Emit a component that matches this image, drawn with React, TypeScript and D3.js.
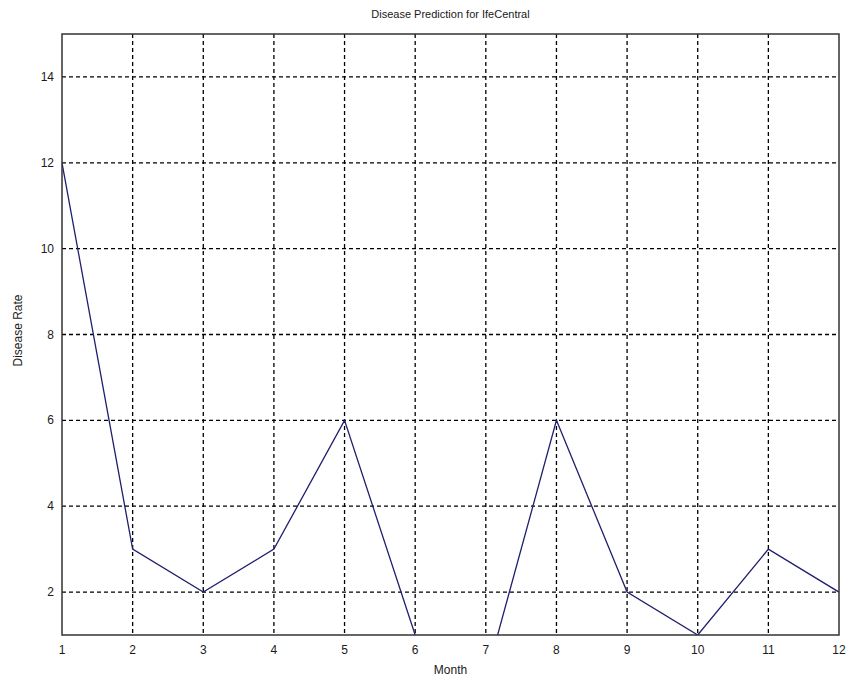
import React from "react";
import * as d3 from "d3";

const months = [1, 2, 3, 4, 5, 6, 7, 8, 9, 10, 11, 12];
const diseaseRate = [12, 3, 2, 3, 6, 1, 0, 6, 2, 1, 3, 2];
const yTicks = [2, 4, 6, 8, 10, 12, 14];

const width = 850;
const height = 682;
const margin = { top: 34, right: 11, bottom: 47, left: 62 };

export default function App() {
  const innerW = width - margin.left - margin.right;
  const innerH = height - margin.top - margin.bottom;

  const x = d3.scaleLinear().domain([1, 12]).range([0, innerW]);
  const y = d3.scaleLinear().domain([1, 15]).range([innerH, 0]);

  const line = d3
    .line<number>()
    .x((_, i) => x(months[i]))
    .y((d) => y(d));

  const font = "Arial, 'Liberation Sans', sans-serif";
  const ink = "#1a1a1a";

  return (
    <svg
      width={width}
      height={height}
      style={{ position: "absolute", left: 0, top: 0, background: "#fff" }}
    >
      <defs>
        <clipPath id="plot">
          <rect x={0} y={0} width={innerW} height={innerH} />
        </clipPath>
      </defs>
      <text
        x={margin.left + innerW / 2}
        y={18}
        textAnchor="middle"
        fontSize={11}
        fontFamily={font}
        fill={ink}
      >
        Disease  Prediction for IfeCentral
      </text>
      <g transform={`translate(${margin.left},${margin.top})`}>
        {months.slice(1, -1).map((m) => (
          <line
            key={"gx" + m}
            x1={x(m)}
            x2={x(m)}
            y1={0}
            y2={innerH}
            stroke="#000"
            strokeWidth={1.3}
            strokeDasharray="4,3"
          />
        ))}
        {yTicks.map((t) => (
          <line
            key={"gy" + t}
            x1={0}
            x2={innerW}
            y1={y(t)}
            y2={y(t)}
            stroke="#000"
            strokeWidth={1.3}
            strokeDasharray="4,3"
          />
        ))}
        <path
          d={line(diseaseRate) ?? ""}
          fill="none"
          stroke="#1f1f6e"
          strokeWidth={1.3}
          clipPath="url(#plot)"
        />
        <rect
          x={0}
          y={0}
          width={innerW}
          height={innerH}
          fill="none"
          stroke="#333"
          strokeWidth={1.5}
        />
        {months.map((m) => (
          <text
            key={"xl" + m}
            x={x(m)}
            y={innerH + 19}
            textAnchor="middle"
            fontSize={12}
            fontFamily={font}
            fill={ink}
          >
            {m}
          </text>
        ))}
        {yTicks.map((t) => (
          <text
            key={"yl" + t}
            x={-8}
            y={y(t) + 4}
            textAnchor="end"
            fontSize={12}
            fontFamily={font}
            fill={ink}
          >
            {t}
          </text>
        ))}
        <text
          x={innerW / 2}
          y={innerH + 39}
          textAnchor="middle"
          fontSize={12}
          fontFamily={font}
          fill={ink}
        >
          Month
        </text>
        <text
          transform={`translate(${-40},${innerH / 2 - 4}) rotate(-90)`}
          textAnchor="middle"
          fontSize={12}
          fontFamily={font}
          fill={ink}
        >
          Disease  Rate
        </text>
      </g>
    </svg>
  );
}
